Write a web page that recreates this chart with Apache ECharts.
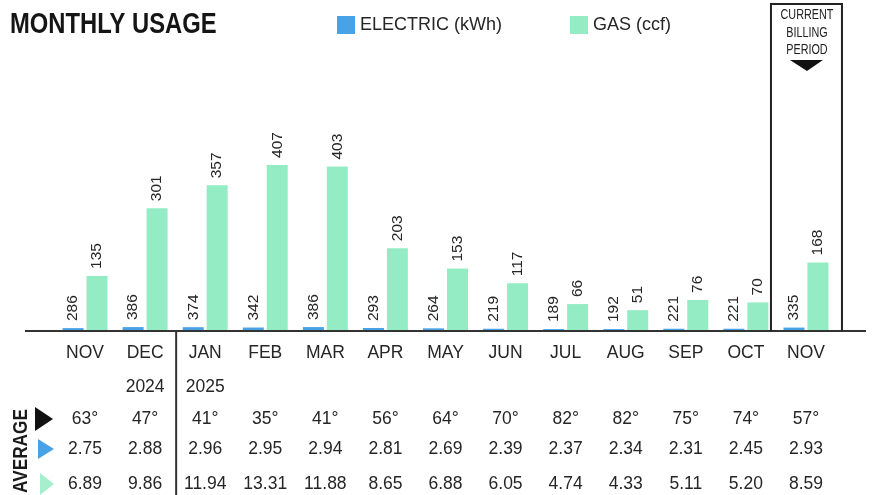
<!DOCTYPE html>
<html>
<head>
<meta charset="utf-8">
<script src="https://cdn.jsdelivr.net/npm/echarts@6/dist/echarts.min.js"></script>
<style>
html,body{margin:0;padding:0;background:#fff;}
#chart{width:873px;height:495px;}
</style>
</head>
<body>
<div id="chart"></div>
<script>
const categories = ['NOV','DEC','JAN','FEB','MAR','APR','MAY','JUN','JUL','AUG','SEP','OCT','NOV'];
const years = ['', '2024', '2025', '', '', '', '', '', '', '', '', '', ''];
const electric = [286,386,374,342,386,293,264,219,189,192,221,221,335];
const gas = [135,301,357,407,403,203,153,117,66,51,76,70,168];
const avgTemp = ['63°','47°','41°','35°','41°','56°','64°','70°','82°','82°','75°','74°','57°'];
const avgElectric = ['2.75','2.88','2.96','2.95','2.94','2.81','2.69','2.39','2.37','2.34','2.31','2.45','2.93'];
const avgGas = ['6.89','9.86','11.94','13.31','11.88','8.65','6.88','6.05','4.74','4.33','5.11','5.20','8.59'];

const FONT = "'Liberation Sans', Arial, sans-serif";
const TXT = '#262626';
const BLUE = '#4aa2e6';
const GREEN = '#93ecc3';

function rowAxis(data, margin) {
  return {
    type: 'category', gridIndex: 0, position: 'bottom', data: data,
    axisLine: {show: false}, axisTick: {show: false}, splitLine: {show: false},
    axisLabel: {interval: 0, margin: margin, verticalAlign: 'middle', fontFamily: FONT, fontSize: 17.5, color: TXT}
  };
}

const chart = echarts.init(document.getElementById('chart'), null, {renderer: 'canvas'});
chart.setOption({
  animation: false,
  legend: [
    {left: 337, top: 16, padding: 0, icon: 'rect', itemWidth: 18, itemHeight: 18, data: ['ELECTRIC (kWh)'], textStyle: {fontFamily: FONT, fontSize: 18, color: TXT}},
    {left: 570, top: 16, padding: 0, icon: 'rect', itemWidth: 18, itemHeight: 18, data: ['GAS (ccf)'], textStyle: {fontFamily: FONT, fontSize: 18, color: TXT}}
  ],
  grid: {left: 55, right: 37, top: 127, bottom: 164},
  xAxis: [
    rowAxis(categories, 22),
    rowAxis(years, 56),
    rowAxis(avgTemp, 88),
    rowAxis(avgElectric, 118),
    rowAxis(avgGas, 153)
  ],
  yAxis: [
    {type: 'value', min: 0, max: 500, show: false},
    {type: 'value', min: 0, max: 20000, show: false}
  ],
  series: [
    {name: 'ELECTRIC (kWh)', type: 'bar', xAxisIndex: 0, yAxisIndex: 1, data: electric,
     barWidth: 21, barGap: '14%', itemStyle: {color: BLUE},
     label: {show: true, position: 'top', rotate: 90, align: 'left', verticalAlign: 'middle', distance: 7, fontFamily: FONT, fontSize: 15.5, color: TXT}},
    {name: 'GAS (ccf)', type: 'bar', xAxisIndex: 0, yAxisIndex: 0, data: gas,
     barWidth: 21, barGap: '14%', itemStyle: {color: GREEN},
     label: {show: true, position: 'top', rotate: 90, align: 'left', verticalAlign: 'middle', distance: 7, fontFamily: FONT, fontSize: 15.5, color: TXT}}
  ]
});

const y0 = chart.convertToPixel({yAxisIndex: 0}, 0);
const xDec = chart.convertToPixel({xAxisIndex: 0}, 1);
const xJan = chart.convertToPixel({xAxisIndex: 0}, 2);
const xLast = chart.convertToPixel({xAxisIndex: 0}, 12);
const sepX = (xDec + xJan) / 2 + 1;
const boxL = xLast - 35, boxR = xLast + 36;

chart.setOption({
  graphic: [
    {type: 'text', x: 10, y: 10, scaleX: 0.82, style: {text: 'MONTHLY USAGE', fontFamily: FONT, fontSize: 29, fontWeight: 'bold', fill: '#151515', align: 'left', verticalAlign: 'top'}},
    {type: 'line', shape: {x1: 25, y1: y0, x2: 866, y2: y0}, style: {stroke: '#333', lineWidth: 2}, z: 10},
    {type: 'line', shape: {x1: sepX, y1: y0, x2: sepX, y2: 495}, style: {stroke: '#333', lineWidth: 2}, z: 10},
    {type: 'polyline', shape: {points: [[boxL, y0], [boxL, 4], [boxR, 4], [boxR, y0]]}, style: {stroke: '#222', lineWidth: 2, fill: null}, z: 10},
    {type: 'text', x: xLast + 1, y: 15, scaleX: 0.72, style: {text: 'CURRENT', fontFamily: FONT, fontSize: 15, fill: '#222', align: 'center', verticalAlign: 'middle'}},
    {type: 'text', x: xLast + 1, y: 33, scaleX: 0.72, style: {text: 'BILLING', fontFamily: FONT, fontSize: 15, fill: '#222', align: 'center', verticalAlign: 'middle'}},
    {type: 'text', x: xLast + 1, y: 50, scaleX: 0.72, style: {text: 'PERIOD', fontFamily: FONT, fontSize: 15, fill: '#222', align: 'center', verticalAlign: 'middle'}},
    {type: 'polygon', shape: {points: [[xLast - 16, 60], [xLast + 17, 60], [xLast + 1, 71]]}, style: {fill: '#111'}},
    {type: 'text', x: 21, y: 451, rotation: Math.PI / 2, scaleX: 0.82, style: {text: 'AVERAGE', fontFamily: FONT, fontSize: 21, fontWeight: 'bold', fill: '#1a1a1a', align: 'center', verticalAlign: 'middle'}},
    {type: 'polygon', shape: {points: [[35, 407], [53, 419], [35, 431]]}, style: {fill: '#111'}},
    {type: 'polygon', shape: {points: [[38, 439], [54, 449], [38, 459]]}, style: {fill: BLUE}},
    {type: 'polygon', shape: {points: [[40, 473], [54, 484], [40, 495]]}, style: {fill: '#a6efcc'}}
  ]
});
</script>
</body>
</html>
